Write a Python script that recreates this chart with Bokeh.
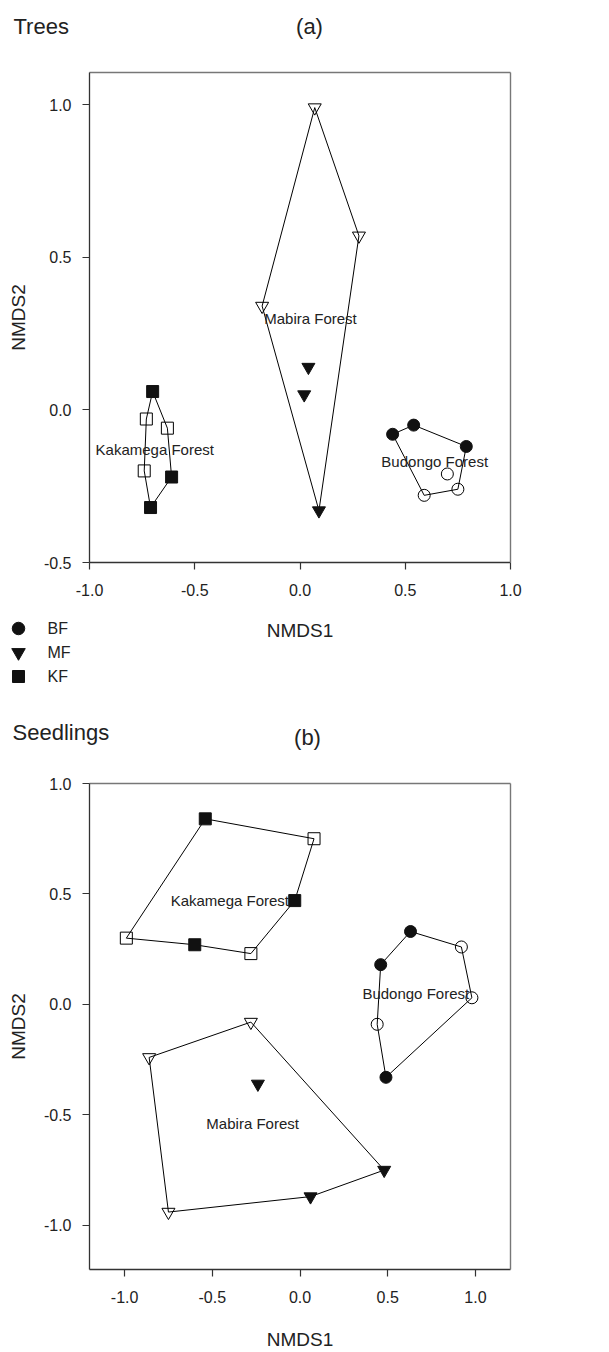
from bokeh.plotting import figure
from bokeh.layouts import column
from bokeh.models import Range1d, FixedTicker, PrintfTickFormatter, LinearAxis
from bokeh.core.properties import value
from bokeh.embed import file_html
from bokeh.resources import INLINE

FONT = "Liberation Sans"
TXT = "#222222"
W = 530
BL, BR = 89, 20      # left / right borders (px)
FH = 490             # frame height (px)

# ---------------- data: (a) Trees ----------------
trees_BF_x = [0.44, 0.54, 0.79, 0.75, 0.59, 0.70]
trees_BF_y = [-0.08, -0.05, -0.12, -0.26, -0.28, -0.21]
trees_BF_filled = [1, 1, 1, 0, 0, 0]
trees_BF_hull = [0, 1, 2, 3, 4]

trees_MF_x = [0.07, 0.28, 0.09, -0.18, 0.04, 0.02]
trees_MF_y = [0.99, 0.57, -0.33, 0.34, 0.14, 0.05]
trees_MF_filled = [0, 0, 1, 0, 1, 1]
trees_MF_hull = [0, 1, 2, 3]

trees_KF_x = [-0.70, -0.63, -0.61, -0.71, -0.74, -0.73]
trees_KF_y = [0.06, -0.06, -0.22, -0.32, -0.20, -0.03]
trees_KF_filled = [1, 0, 1, 1, 0, 0]
trees_KF_hull = [0, 1, 2, 3, 4, 5]

trees_labels = ["Mabira Forest", "Kakamega Forest", "Budongo Forest"]
trees_label_x = [0.05, -0.69, 0.64]
trees_label_y = [0.30, -0.13, -0.17]

trees_xticks = [-1.0, -0.5, 0.0, 0.5, 1.0]
trees_yticks = [-0.5, 0.0, 0.5, 1.0]

# ---------------- data: (b) Seedlings ----------------
seed_KF_x = [-0.54, 0.08, -0.03, -0.28, -0.60, -0.99]
seed_KF_y = [0.84, 0.75, 0.47, 0.23, 0.27, 0.30]
seed_KF_filled = [1, 0, 1, 0, 1, 0]
seed_KF_hull = [0, 1, 2, 3, 4, 5]

seed_BF_x = [0.46, 0.63, 0.92, 0.98, 0.49, 0.44]
seed_BF_y = [0.18, 0.33, 0.26, 0.03, -0.33, -0.09]
seed_BF_filled = [1, 1, 0, 0, 1, 0]
seed_BF_hull = [0, 1, 2, 3, 4, 5]

seed_MF_x = [-0.28, 0.48, 0.06, -0.75, -0.86, -0.24]
seed_MF_y = [-0.08, -0.75, -0.87, -0.94, -0.24, -0.36]
seed_MF_filled = [0, 1, 1, 0, 0, 1]
seed_MF_hull = [0, 1, 2, 3, 4]

seed_labels = ["Kakamega Forest", "Budongo Forest", "Mabira Forest"]
seed_label_x = [-0.40, 0.66, -0.27]
seed_label_y = [0.47, 0.05, -0.54]

seed_xticks = [-1.0, -0.5, 0.0, 0.5, 1.0]
seed_yticks = [-1.0, -0.5, 0.0, 0.5, 1.0]

legend_labels = ["BF", "MF", "KF"]
MARKERS = {"BF": "circle", "MF": "inverted_triangle", "KF": "square"}
MSIZE = {"BF": 12, "MF": 13, "KF": 12}
LEG_SIZE = {"BF": 12.5, "MF": 13.5, "KF": 12}


def text_fig(h):
    f = figure(width=W, height=h, x_range=Range1d(0, W), y_range=Range1d(h, 0),
               x_axis_type=None, y_axis_type=None, toolbar_location=None,
               output_backend="svg", min_border=0, frame_align=False)
    f.outline_line_color = None
    f.grid.visible = False
    return f


def add_text(f, x, y, t, size, align="left"):
    f.text(x=[x], y=[y], text=[t], text_font=value(FONT), text_font_size=size,
           text_color=TXT, text_align=align, text_baseline="middle")


def panel(xr, yr, xticks, yticks, groups, labels, lx, ly, top, bottom, xlabel):
    p = figure(width=W, height=top + FH + bottom, x_range=Range1d(*xr), y_range=Range1d(*yr),
               toolbar_location=None, output_backend="svg", frame_align=False,
               min_border_left=BL, min_border_right=BR, min_border_top=top,
               min_border_bottom=bottom)
    p.grid.visible = False
    p.outline_line_color = None
    for ax, ticks in ((p.xaxis, xticks), (p.yaxis, yticks)):
        ax.ticker = FixedTicker(ticks=ticks)
        ax.formatter = PrintfTickFormatter(format="%.1f")
        ax.major_tick_in = 0
        ax.major_tick_out = 7
        ax.minor_tick_line_color = None
        ax.axis_line_color = "#333333"
        ax.axis_line_width = 1.3
        ax.major_tick_line_color = "#333333"
        ax.major_tick_line_width = 1.2
        ax.major_label_text_font = FONT
        ax.major_label_text_font_size = "16px"
        ax.major_label_text_color = TXT
        ax.axis_label_text_font = FONT
        ax.axis_label_text_font_size = "19px"
        ax.axis_label_text_font_style = "normal"
        ax.axis_label_text_color = TXT
    p.xaxis.major_label_standoff = 14
    if xlabel:
        p.xaxis.axis_label = xlabel
        p.xaxis.axis_label_standoff = 23
    p.yaxis.major_label_standoff = 11
    p.yaxis.axis_label = "NMDS2"
    p.yaxis.axis_label_standoff = 12
    for loc in ("right", "above"):
        a = LinearAxis(ticker=FixedTicker(ticks=[]), axis_line_color="#777777",
                       axis_line_width=1.4, major_tick_line_color=None,
                       minor_tick_line_color=None, major_label_text_font_size="0px")
        p.add_layout(a, loc)
    for key, (xs, ys, filled, hull) in groups.items():
        hx = [xs[i] for i in hull] + [xs[hull[0]]]
        hy = [ys[i] for i in hull] + [ys[hull[0]]]
        p.line(hx, hy, line_color="black", line_width=1)
    for key, (xs, ys, filled, hull) in groups.items():
        fx = [x for x, f in zip(xs, filled) if f]
        fy = [y for y, f in zip(ys, filled) if f]
        ox = [x for x, f in zip(xs, filled) if not f]
        oy = [y for y, f in zip(ys, filled) if not f]
        p.scatter(ox, oy, marker=MARKERS[key], size=MSIZE[key], fill_alpha=0,
                  line_color="black", line_width=1)
        p.scatter(fx, fy, marker=MARKERS[key], size=MSIZE[key], fill_color="#111111",
                  line_color="#111111", line_width=1)
    p.text(x=lx, y=ly, text=labels, text_font=value(FONT), text_font_size="15px",
           text_color=TXT, text_align="center", text_baseline="middle")
    return p


# header (a): page y 0..64
ha = text_fig(64)
add_text(ha, 13, 26, "Trees", "22px")
add_text(ha, 309, 26, "(a)", "22px", "center")

# panel (a): page y 64..612, frame 72..562
pa = panel((-1.0, 1.0), (-0.5, 1.105), trees_xticks, trees_yticks,
           {"MF": (trees_MF_x, trees_MF_y, trees_MF_filled, trees_MF_hull),
            "KF": (trees_KF_x, trees_KF_y, trees_KF_filled, trees_KF_hull),
            "BF": (trees_BF_x, trees_BF_y, trees_BF_filled, trees_BF_hull)},
           trees_labels, trees_label_x, trees_label_y, 8, 50, None)

# x label + legend: page y 612..700
fa = text_fig(88)
add_text(fa, 299.5, 18, "NMDS1", "19px", "center")
for lab, yy in zip(legend_labels, [16, 40, 64]):
    fa.scatter([18], [yy], marker=MARKERS[lab], size=LEG_SIZE[lab],
               fill_color="#111111", line_color="#111111")
    add_text(fa, 47, yy, lab, "16px")

# header (b): page y 700..775
hb = text_fig(75)
add_text(hb, 12, 32, "Seedlings", "22px")
add_text(hb, 307, 37, "(b)", "22px", "center")

# panel (b): page y 775..1352, frame 783..1273
pb = panel((-1.2, 1.2), (-1.2, 1.0), seed_xticks, seed_yticks,
           {"KF": (seed_KF_x, seed_KF_y, seed_KF_filled, seed_KF_hull),
            "BF": (seed_BF_x, seed_BF_y, seed_BF_filled, seed_BF_hull),
            "MF": (seed_MF_x, seed_MF_y, seed_MF_filled, seed_MF_hull)},
           seed_labels, seed_label_x, seed_label_y, 8, 79, "NMDS1")

layout = column(ha, pa, fa, hb, pb, spacing=0)
open("out.html", "w").write(file_html(layout, INLINE))
